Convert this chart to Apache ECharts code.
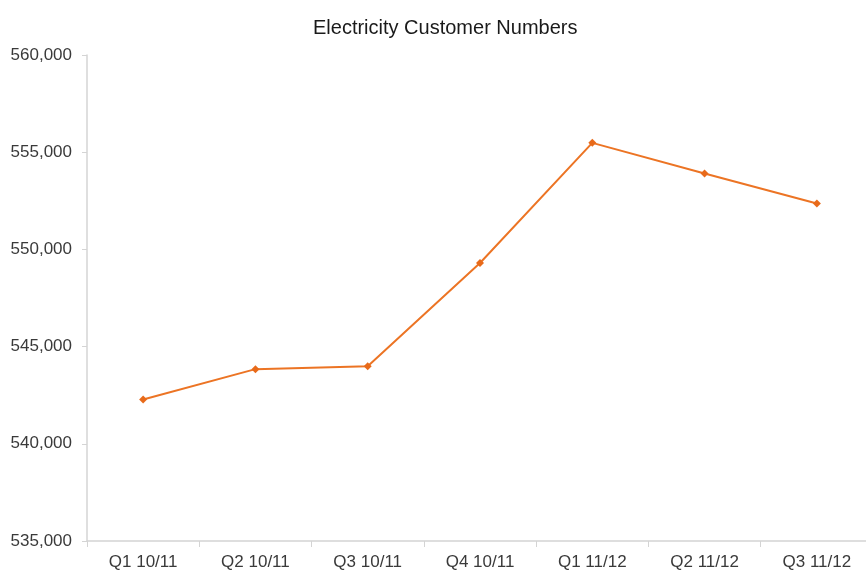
<!DOCTYPE html>
<html>
<head>
<meta charset="utf-8">
<script src="https://cdn.jsdelivr.net/npm/echarts@6/dist/echarts.min.js"></script>
<style>
  html, body { margin: 0; padding: 0; background: #fff; }
  #chart { width: 866px; height: 579px; }
</style>
</head>
<body>
<div id="chart"></div>
<script>
// Quarterly electricity customer counts
const quarters = ['Q1 10/11', 'Q2 10/11', 'Q3 10/11', 'Q4 10/11', 'Q1 11/12', 'Q2 11/12', 'Q3 11/12'];
const customers = [542280, 543840, 543990, 549300, 555480, 553900, 552360];
const yMin = 535000;
const yMax = 560000;
const yStep = 5000;

const chart = echarts.init(document.getElementById('chart'));
chart.setOption({
  animation: false,
  title: {
    text: 'Electricity Customer Numbers',
    left: 308,
    top: 13,
    textStyle: {
      fontFamily: 'Liberation Sans, Arial, sans-serif',
      fontSize: 20,
      fontWeight: 'normal',
      color: '#1a1a1a'
    }
  },
  // plot area runs slightly past the right edge of the canvas
  grid: { left: 87, width: 786, top: 55, bottom: 38, outerBoundsMode: 'none', containLabel: false },
  xAxis: {
    type: 'category',
    data: quarters,
    boundaryGap: true,
    axisLine: { lineStyle: { color: '#d4d4d4', width: 1.5 } },
    axisTick: { show: true, length: 6, lineStyle: { color: '#d4d4d4' } },
    axisLabel: {
      margin: 13,
      fontFamily: 'Liberation Sans, Arial, sans-serif',
      fontSize: 17,
      color: '#3a3a3a'
    },
    splitLine: { show: false }
  },
  yAxis: {
    type: 'value',
    min: yMin,
    max: yMax,
    interval: yStep,
    axisLine: { show: true, lineStyle: { color: '#d4d4d4', width: 1.5 } },
    axisTick: { show: true, length: 5, lineStyle: { color: '#d4d4d4' } },
    axisLabel: {
      margin: 15,
      fontFamily: 'Liberation Sans, Arial, sans-serif',
      fontSize: 17,
      color: '#3a3a3a',
      formatter: v => v.toLocaleString('en-US')
    },
    splitLine: { show: false }
  },
  series: [{
    type: 'line',
    data: customers,
    symbol: 'diamond',
    symbolSize: 8,
    lineStyle: { color: '#ec7424', width: 2 },
    itemStyle: { color: '#e86a1a' }
  }]
});
</script>
</body>
</html>
